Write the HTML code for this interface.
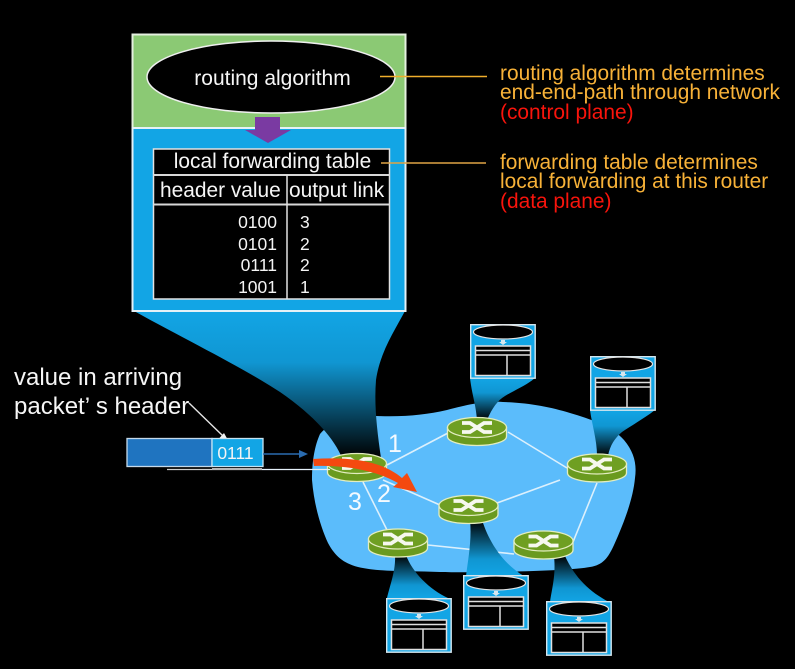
<!DOCTYPE html>
<html><head><meta charset="utf-8"><style>
html,body{margin:0;padding:0;background:#000;width:795px;height:669px;overflow:hidden}
svg{display:block;filter:blur(.3px)}
text{font-family:"Liberation Sans",sans-serif}
</style></head><body>
<svg width="795" height="669" viewBox="0 0 795 669" xmlns="http://www.w3.org/2000/svg">
<defs>
<linearGradient id="gd" x1="0" y1="0" x2="0" y2="1"><stop offset="0" stop-color="#12a5e5"/><stop offset=".35" stop-color="#1096d2"/><stop offset="1" stop-color="#000"/></linearGradient>
<linearGradient id="gu" x1="0" y1="1" x2="0" y2="0"><stop offset="0" stop-color="#12a5e5"/><stop offset=".3" stop-color="#1096d2"/><stop offset="1" stop-color="#000"/></linearGradient>
<g id="mini">
<rect x="0.700" y="0.700" width="64.500" height="53.500" fill="#12a5e5" stroke="#d5e6ee" stroke-width="1.400"/>
<ellipse cx="33" cy="8" rx="29.500" ry="7" fill="#000" stroke="#e4e4e4" stroke-width="1.200"/>
<path d="M31 16h4v2h2l-4 3-4-3h2z" fill="#d5e6ee"/>
<rect x="5.500" y="22" width="55" height="29.500" fill="#000" stroke="#e0e0e0" stroke-width="1.500"/>
<path d="M5.500 26.500h55M5.500 31h55M37 31v21" stroke="#e0e0e0" stroke-width="1.500" fill="none"/>
</g>
<g id="router">
<path d="M-29.500 -4v9c0 5 13 9 29.500 9s29.500-4 29.500-9v-9z" fill="#6a9a1f" stroke="#e3edc0" stroke-width="1.300"/>
<ellipse cx="0" cy="-4" rx="29.500" ry="10" fill="#6f9f22" stroke="#e3edc0" stroke-width="1.300"/>
<path d="M-15 -8.500H-7L7 0.500H15M-15 0.500H-7L7 -8.500H15" fill="none" stroke="#f6f8ee" stroke-width="3.800"/>
</g>
</defs>
<rect width="795" height="669" fill="#000"/>

<!-- network cloud -->
<path d="M320 434C332 420 352 415 376 416C405 417 425 415 447 410C470 404 485 401 503 402C530 403 550 407 570 413C590 419 612 426 624 440C634 452 637 464 635 478C633 500 623 525 614 545C608 558 603 565 590 567C570 571 480 573 440 572C410 571 378 572 358 567C343 563 335 556 328 543C321 528 314 505 312 480C312 460 315 445 320 434Z" fill="#5bbcfb"/>

<!-- links -->
<g stroke="#dcf0fc" stroke-width="1.600" fill="none">
<line x1="387" y1="465" x2="448" y2="433"/>
<line x1="508" y1="432" x2="567" y2="468"/>
<line x1="560" y1="480" x2="497" y2="503"/>
<line x1="597" y1="483" x2="573" y2="542"/>
<line x1="383" y1="480" x2="440" y2="505"/>
<line x1="363" y1="482" x2="387" y2="530"/>
<line x1="428" y1="545" x2="514" y2="554"/>
</g>

<!-- main funnel -->
<path d="M134 311C190 342 240 366 280 392C315 416 335 440 342 458H381C377 430 374 405 376 380C380 352 395 330 405 311Z" fill="url(#gd)"/>

<!-- small funnels -->
<path d="M470 378C472 395 476 405 477 420H487C492 408 498 400 505 396C515 390 527 385 535 378Z" fill="url(#gd)"/>
<path d="M590 410C592 425 597 440 597 456H608C610 445 615 438 622 432C632 425 645 418 655 410Z" fill="url(#gd)"/>
<path d="M395 555C396 570 390 585 387 598H448C430 590 412 572 406 555Z" fill="url(#gu)"/>
<path d="M470 520C472 540 468 560 466 576H524C505 565 490 545 482 520Z" fill="url(#gu)"/>
<path d="M554 556C556 575 552 588 550 602H609C590 592 575 578 565 556Z" fill="url(#gu)"/>

<!-- routers -->
<use href="#router" x="357" y="467.500"/>
<use href="#router" x="477" y="431.500"/>
<use href="#router" x="597" y="468"/>
<use href="#router" x="468.500" y="509.500"/>
<use href="#router" x="398" y="543"/>
<use href="#router" x="543.500" y="545"/>

<!-- mini routers boxes -->
<use href="#mini" x="470" y="324"/>
<use href="#mini" x="590" y="356"/>
<use href="#mini" x="386" y="598"/>
<use href="#mini" x="463" y="575"/>
<use href="#mini" x="546" y="601"/>

<!-- main box -->
<rect x="132.500" y="34.500" width="273" height="94" fill="#8bc974" stroke="#e4efdf" stroke-width="2"/>
<rect x="132.500" y="128" width="273" height="183" fill="#12a5e5" stroke="#e4f1f7" stroke-width="2"/>
<ellipse cx="271" cy="77" rx="124" ry="36" fill="#000" stroke="#efefef" stroke-width="1.500"/>
<text x="272.500" y="85" font-size="21" fill="#f6f6f6" text-anchor="middle">routing algorithm</text>
<path d="M255 117h25v13h11l-23 13-23-13h10z" fill="#7a3aa2"/>

<!-- table -->
<rect x="153.500" y="149" width="236" height="150" fill="#000" stroke="#e2e2e2" stroke-width="1.500"/>
<path d="M153.500 175h236" stroke="#d8d8d8" stroke-width="2" fill="none"/>
<path d="M153.500 204.500h236" stroke="#d8d8d8" stroke-width="2" fill="none"/>
<path d="M287 175v124" stroke="#e2e2e2" stroke-width="1.500" fill="none"/>
<text x="272.500" y="168" font-size="20.900" fill="#f6f6f6" text-anchor="middle">local forwarding table</text>
<text x="160" y="197" font-size="20.900" fill="#f6f6f6">header value</text>
<text x="289" y="197" font-size="20.900" fill="#f6f6f6">output link</text>
<g font-size="17.500" fill="#f4f4f4">
<text x="277" y="228" text-anchor="end">0100</text>
<text x="277" y="250" text-anchor="end">0101</text>
<text x="277" y="271" text-anchor="end">0111</text>
<text x="277" y="293" text-anchor="end">1001</text>
<text x="300" y="228">3</text>
<text x="300" y="250">2</text>
<text x="300" y="271">2</text>
<text x="300" y="293">1</text>
</g>

<!-- callouts -->
<line x1="380" y1="76.500" x2="487" y2="76.500" stroke="#f0ae2c" stroke-width="1.500"/>
<line x1="381" y1="163" x2="486" y2="163" stroke="#e0a445" stroke-width="1.500"/>
<g font-size="20.900">
<text x="500" y="80" fill="#f8b238">routing algorithm determines</text>
<text x="500" y="99" fill="#f8b238">end-end-path through network</text>
<text x="500" y="119" fill="#f8140c">(control plane)</text>
<text x="500" y="169" fill="#f8b238">forwarding table determines</text>
<text x="500" y="188" fill="#f8b238">local forwarding at this router</text>
<text x="500" y="208" fill="#f8140c">(data plane)</text>
</g>

<!-- packet -->
<text x="14" y="385" font-size="24" fill="#f6f6f6">value in arriving</text>
<text x="14" y="414" font-size="24" fill="#f6f6f6">packet’ s header</text>
<line x1="189" y1="403" x2="224" y2="437" stroke="#e6e6e6" stroke-width="1.400"/>
<path d="M229 442l-10-3.500 5-5.500z" fill="#f2f2f2"/>
<rect x="127" y="438.500" width="85" height="28" fill="#1f74c0" stroke="#c5d9ea" stroke-width="1.300"/>
<rect x="212" y="438.500" width="51" height="28" fill="#12a5e5" stroke="#c5e3f2" stroke-width="1.300"/>
<text x="235.500" y="459" font-size="17.500" fill="#f4f4f4" text-anchor="middle">0111</text>
<line x1="263" y1="454" x2="300" y2="454" stroke="#2a6cb0" stroke-width="1.500"/>
<path d="M308 454l-9-4v8z" fill="#2a6cb0"/>
<line x1="167" y1="469.500" x2="262" y2="469.500" stroke="#cfcfcf" stroke-width="1.300"/>
<line x1="212" y1="469" x2="262" y2="469" stroke="#b8b8b8" stroke-width="2"/>
<line x1="262" y1="469.500" x2="330" y2="469.500" stroke="#e6f2fa" stroke-width="1.300"/>

<!-- orange-red route arrow -->
<path d="M313 459C345 457 380 459 402 478L407 473L417 492L393 487L398 483C375 470 345 465 314 466Z" fill="#f4490f"/>

<!-- port numbers -->
<g font-size="25" fill="#f4faff">
<text x="388" y="452">1</text>
<text x="377" y="502">2</text>
<text x="348" y="510">3</text>
</g>
</svg>
</body></html>
